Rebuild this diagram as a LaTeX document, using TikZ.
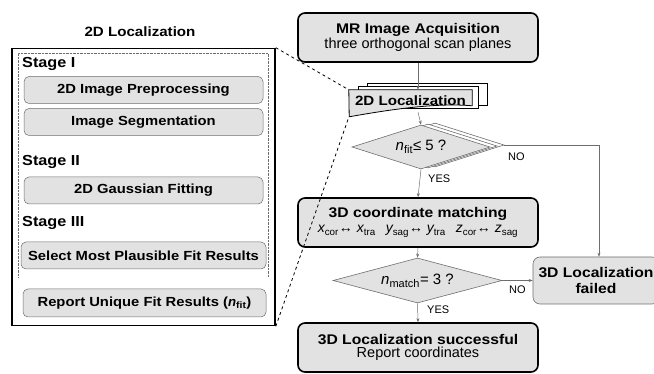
\documentclass[tikz,border=0pt]{standalone}
\usepackage{fontspec}
\setmainfont{Liberation Sans}[BoldFeatures={FakeStretch=1.12}]
\usepackage{xcolor}
\definecolor{boxgray}{RGB}{226, 226, 226}
\definecolor{edgegray}{RGB}{110, 110, 110}
\usepackage{tikz}
\usetikzlibrary{
    shapes.geometric,
    arrows.meta,
    positioning,
    calc
}

\tikzset{
    mainbox/.style={draw=black, line width=1.6pt, rounded corners=7pt, fill=boxgray,
        minimum width=240pt, minimum height=49pt, align=center, inner sep=0pt},
    stagebox/.style={draw=edgegray, line width=0.5pt, rounded corners=5pt, fill=boxgray,
        minimum width=239pt, minimum height=27pt, inner sep=0pt, font=\fontsize{13.2}{15}\selectfont\bfseries},
    stagelabel/.style={anchor=west, inner sep=0pt, font=\fontsize{14.5}{16}\selectfont\bfseries},
    check/.style={diamond, draw=edgegray, line width=0.6pt, fill=boxgray, inner sep=0pt},
    sheet/.style={draw=black, line width=0.8pt},
    flow/.style={-{Stealth[length=4pt,width=3pt]}, line width=0.5pt, draw=edgegray},
    answer/.style={font=\fontsize{11}{13}\selectfont, inner sep=0pt}
}

\begin{document}
\begin{tikzpicture}[x=1pt, y=-1pt]
    \useasboundingbox (0,0) rectangle (654,374);

    % 2D Localization panel
    \node[font=\fontsize{13.5}{16}\selectfont\bfseries] (paneltitle) at (140,32) {2D Localization};
    \node[draw=black, line width=1.6pt, minimum width=263pt, minimum height=277pt, inner sep=0pt] (panel) at (143.5,187) {};
    \draw[densely dotted, line width=0.4pt, draw=edgegray] (18,277) -- (18,53) -- (268,53) -- (268,277);

    \node[stagelabel] (stage1) at (22,64) {Stage I};
    \node[stagebox] (prep) at (143.5,90) {2D Image Preprocessing};
    \node[stagebox] (seg) at (143.5,122) {Image Segmentation};
    \node[stagelabel] (stage2) at (22,162) {Stage II};
    \node[stagebox] (gauss) at (143.5,190.5) {2D Gaussian Fitting};
    \node[stagelabel] (stage3) at (22,223) {Stage III};
    \node[stagebox, minimum width=245pt] (select) at (143.5,255.5) {Select Most Plausible Fit Results};
    \node[stagebox, minimum width=243pt, minimum height=28pt] (report) at (144.5,303)
        {Report Unique Fit Results ({\itshape n}\textsubscript{fit})};

    % flow chart
    \node[mainbox] (acq) at (418,37.5) {\fontsize{14}{16}\selectfont\bfseries MR Image Acquisition\\[1pt]
        \fontsize{14.5}{16}\selectfont three orthogonal scan planes};

    % stacked 2D localization sheets
    \draw[sheet, fill=white] (367,83) rectangle (487,105);
    \draw[sheet, fill=white] (358,86) rectangle (478,108);
    \node[minimum width=123pt, minimum height=24pt, inner sep=0pt] (loc2d) at (410.5,102) {};
    \draw[sheet, fill=boxgray] (loc2d.north west) -- (loc2d.north east) -- ++(0,16)
        .. controls ++(-35,-3) and ++(45,-8) .. ++(-123,11) -- cycle;
    \node[font=\fontsize{13.5}{16}\selectfont\bfseries] (loc2dtext) at (410.5,101) {2D Localization};

    % n_fit check
    \node[check, aspect=3.9, minimum width=138pt, minimum height=44pt, fill=white] (fitcheckc) at (435,145) {\phantom{$n$ fit≤ 5 ?}};
    \node[check, aspect=3.9, minimum width=138pt, minimum height=44pt, fill=white] (fitcheckb) at (428,146) {\phantom{$n$ fit≤ 5 ?}};
    \node[check, aspect=3.9, minimum width=138pt, minimum height=44pt] (fitcheck) at (421,147)
        {\fontsize{15}{17}\selectfont{\itshape n}\textsubscript{\fontsize{11}{12}\selectfont fit}≤ 5 ?};

    \node[mainbox] (match) at (418,222.5) {\fontsize{14}{16}\selectfont\bfseries 3D coordinate matching\\[3pt]
        \fontsize{14}{16}\selectfont {\itshape x}\textsubscript{cor}↔ {\itshape x}\textsubscript{tra}\hspace{10pt}%
        {\itshape y}\textsubscript{sag}↔ {\itshape y}\textsubscript{tra}\hspace{10pt}%
        {\itshape z}\textsubscript{cor}↔ {\itshape z}\textsubscript{sag}};

    \node[check, aspect=4.2, minimum width=169pt, minimum height=45pt] (matchcheck) at (417.5,280.5)
        {\fontsize{15}{17}\selectfont{\itshape n}\textsubscript{\fontsize{11}{12}\selectfont match}= 3 ?};

    \node[mainbox] (success) at (418,347.5) {\fontsize{14}{16}\selectfont\bfseries 3D Localization successful\\[1pt]
        \fontsize{14.5}{16}\selectfont Report coordinates};

    \node[draw=edgegray, line width=0.6pt, rounded corners=7pt, fill=boxgray, minimum width=126pt,
        minimum height=47pt, align=center, inner sep=0pt, font=\fontsize{14}{16}\selectfont\bfseries]
        (failed) at (596,280.5) {3D Localization\\failed};

    % connectors
    \draw[flow] (acq.south) -- (acq.south |- loc2d.north);
    \draw[flow] (418,112) -- (fitcheck.north);
    \draw[flow] (fitcheck.south) -- (match.north);
    \draw[flow] (match.south) -- (matchcheck.north);
    \draw[flow] (matchcheck.south) -- (success.north);
    \draw[flow] (fitcheckc.east) -| (failed.north -| 599,0);
    \draw[flow] (matchcheck.east) -- (failed.west);

    \node[answer, anchor=west] (no1) at (508,157) {NO};
    \node[answer, anchor=west] (yes1) at (428,179) {YES};
    \node[answer, anchor=west] (no2) at (509,290) {NO};
    \node[answer, anchor=west] (yes2) at (427,310) {YES};

    % zoom lines
    \draw[dashed, line width=0.8pt] (panel.north east) -- (loc2d.north west);
    \draw[dashed, line width=0.8pt] (panel.south east) -- ($(loc2d.south west)+(0,3)$);
\end{tikzpicture}
\end{document}
